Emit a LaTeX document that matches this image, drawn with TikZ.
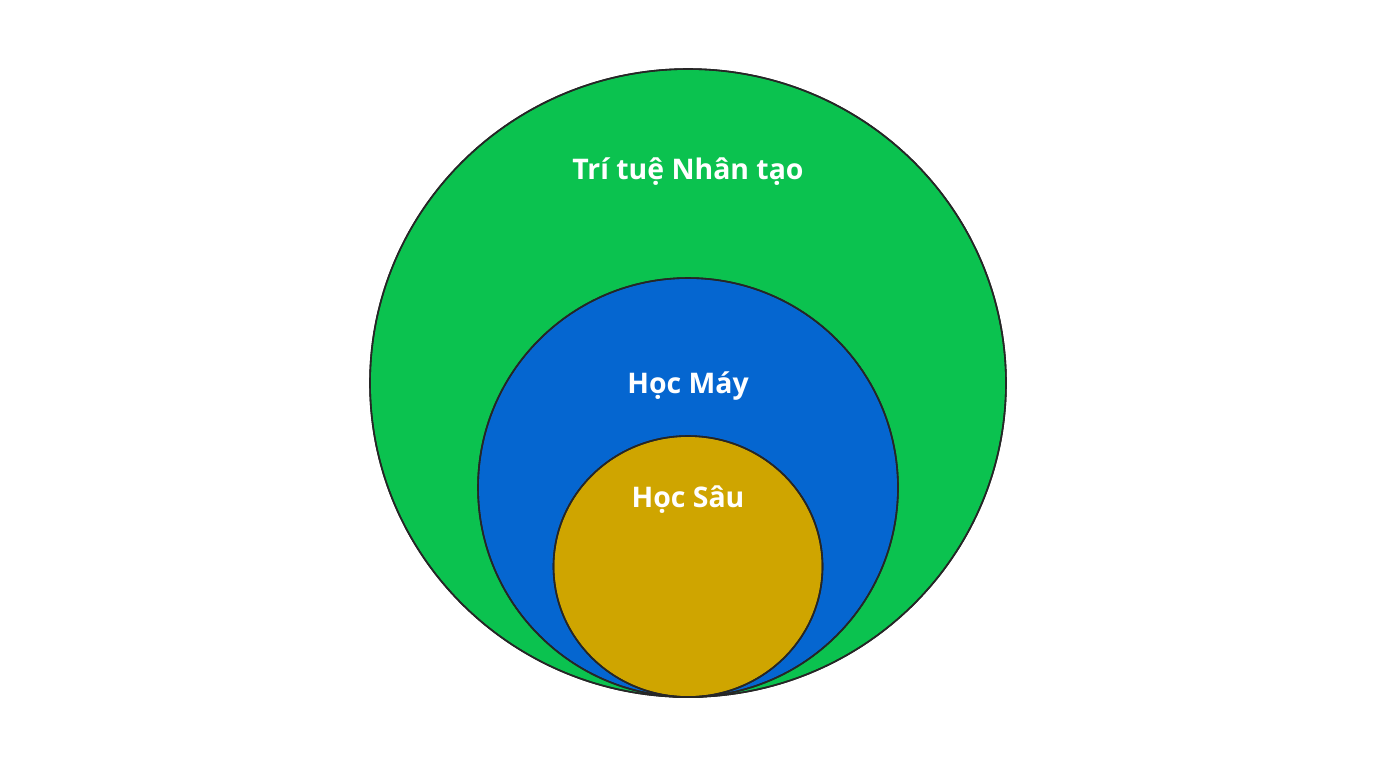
\documentclass[tikz,border=0pt]{standalone}
\usepackage{fontspec}
\setmainfont{Open Sans}
\definecolor{aigreen}{HTML}{0BC24F}
\definecolor{mlblue}{HTML}{0566D0}
\definecolor{dlgold}{HTML}{CFA500}
\tikzset{
  ring/.style={draw=black!85, line width=0.8pt},
  lbl/.style={text=white, font=\bfseries\fontsize{14.2}{17}\selectfont}
}
\begin{document}
\begin{tikzpicture}[x=0.5pt,y=-0.5pt]
\useasboundingbox[fill=white] (0,0) rectangle (1376,768);
\fill[ring, fill=aigreen] (688,383) ellipse [x radius=318, y radius=314];
\fill[ring, fill=mlblue] (688,487.5) ellipse [x radius=210, y radius=209.5];
\fill[ring, fill=dlgold] (688,566.5) ellipse [x radius=134.5, y radius=130.5];
\draw[ring] (688,383) ellipse [x radius=318, y radius=314];
\draw[ring] (688,487.5) ellipse [x radius=210, y radius=209.5];
\draw[ring] (688,566.5) ellipse [x radius=134.5, y radius=130.5];
\node[lbl] (ai) at (688,172) {Trí tuệ Nhân tạo};
\node[lbl] (ml) at (688,386) {Học Máy};
\node[lbl] (dl) at (688,500) {Học Sâu};
\end{tikzpicture}
\end{document}
